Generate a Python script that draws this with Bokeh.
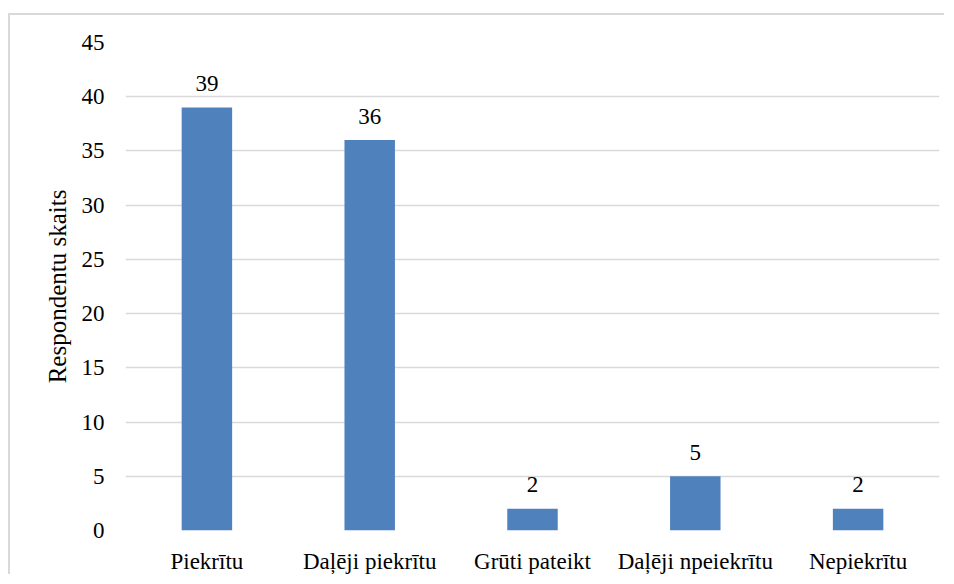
from bokeh.plotting import figure
from bokeh.models import FixedTicker, ColumnDataSource
from bokeh.core.properties import value
from bokeh.embed import file_html
from bokeh.resources import INLINE

categories = ["Piekrītu", "Daļēji piekrītu", "Grūti pateikt", "Daļēji npeiekrītu", "Nepiekrītu"]
counts = [39, 36, 2, 5, 2]
y_ticks = [0, 5, 10, 15, 20, 25, 30, 35, 40, 45]

FONT = "Liberation Serif"
FS = "23px"
src = ColumnDataSource(dict(cat=categories, val=counts, lab=[str(v) for v in counts]))

p = figure(x_range=categories, y_range=(0, 45), width=936, height=561,
           output_backend="svg", toolbar_location=None,
           min_border_left=115, min_border_right=7, min_border_top=27, min_border_bottom=45)
p.styles = {"border-left": "2px solid #d9d9d9", "border-top": "2px solid #d9d9d9",
            "margin-top": "13px", "margin-left": "8px"}
p.outline_line_color = None
p.background_fill_color = "white"
p.border_fill_color = "white"

p.vbar(x="cat", top="val", width=0.31, source=src, color="#4F81BD", line_color=None)
p.text(x="cat", y="val", text="lab", source=src, y_offset=-24,
       text_align="center", text_baseline="alphabetic",
       text_font=value(FONT), text_font_size=FS, text_color="#000000")

p.xgrid.grid_line_color = None
p.ygrid.grid_line_color = "#d9d9d9"
p.ygrid.grid_line_width = 1.5
p.yaxis.ticker = FixedTicker(ticks=y_ticks)

for ax in (p.xaxis, p.yaxis):
    ax.axis_line_color = None
    ax.major_tick_line_color = None
    ax.minor_tick_line_color = None
    ax.major_label_text_font = FONT
    ax.major_label_text_font_size = FS
    ax.major_label_text_color = "#000000"

p.yaxis.major_label_standoff = 15
p.xaxis.major_label_standoff = 12
p.yaxis.axis_label = "Respondentu skaits"
p.yaxis.axis_label_text_font = FONT
p.yaxis.axis_label_text_font_size = "25px"
p.yaxis.axis_label_text_font_style = "normal"
p.yaxis.axis_label_text_color = "#000000"
p.yaxis.axis_label_standoff = 8
p.x_range.range_padding = 0

open("out.html", "w").write(file_html(p, INLINE))
